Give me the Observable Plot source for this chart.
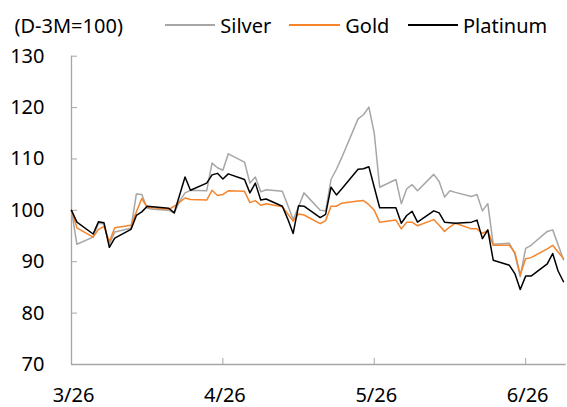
<!DOCTYPE html>
<html>
<head>
<meta charset="utf-8">
<script src="https://cdn.jsdelivr.net/npm/d3@7"></script>
<script src="https://cdn.jsdelivr.net/npm/@observablehq/plot@0.6"></script>
<style>
  body { margin: 0; background: #fff; }
  #chart { position: relative; width: 567px; height: 407px; font-family: "Noto Sans", sans-serif; color: #000; }
  #legend { position: relative; width: 567px; height: 40px; font-size: 20px; }
  .lg { position: absolute; top: 12px; line-height: 27px; white-space: nowrap; }
  .sw { position: absolute; top: 24px; height: 2px; }
  svg { display: block; }
</style>
</head>
<body>
<div id="chart">
  <div id="legend"></div>
</div>
<script>
// ---- data (indexed, 3 months ago = 100) ----
const dates = [
  "2026-03-26","2026-03-27","2026-03-30","2026-03-31","2026-04-01","2026-04-02","2026-04-03",
  "2026-04-06","2026-04-07","2026-04-08","2026-04-09","2026-04-10",
  "2026-04-13","2026-04-14","2026-04-15","2026-04-16","2026-04-17",
  "2026-04-20","2026-04-21","2026-04-22","2026-04-23","2026-04-24",
  "2026-04-27","2026-04-28","2026-04-29","2026-04-30","2026-05-01",
  "2026-05-04","2026-05-05","2026-05-06","2026-05-07","2026-05-08",
  "2026-05-11","2026-05-12","2026-05-13","2026-05-14","2026-05-15",
  "2026-05-18","2026-05-19","2026-05-20","2026-05-21","2026-05-22",
  "2026-05-25","2026-05-26","2026-05-27","2026-05-28","2026-05-29",
  "2026-06-01","2026-06-02","2026-06-03","2026-06-04","2026-06-05",
  "2026-06-08","2026-06-09","2026-06-10","2026-06-11","2026-06-12",
  "2026-06-15","2026-06-16","2026-06-17","2026-06-18","2026-06-19",
  "2026-06-22","2026-06-23","2026-06-24","2026-06-25"
];
const silver = [
  100.0, 93.4, 94.8, 97.5, 97.4, 93.4, 95.8,
  96.5, 103.2, 103.1, 100.4, 100.2,
  100.0, 99.5, 101.8, 103.4, 103.9,
  103.8, 109.2, 108.3, 107.8, 111.0,
  109.4, 105.3, 106.5, 103.6, 104.0,
  103.7, 101.0, 98.2, 100.7, 103.4,
  100.0, 99.9, 106.0, 108.0, 110.3,
  117.8, 118.6, 120.1, 115.0, 104.5,
  106.0, 101.3, 104.2, 105.0, 103.8,
  107.0, 105.6, 102.6, 103.8, 103.5,
  102.7, 103.1, 99.9, 101.3, 93.4,
  93.6, 91.5, 87.1, 92.6, 93.2,
  95.9, 96.2, 93.3, 90.4
];
const gold = [
  100.0, 96.6, 94.8, 96.3, 96.9, 93.9, 96.6,
  97.1, 99.7, 102.3, 100.6, 100.5,
  100.2, 100.8, 101.6, 102.4, 102.1,
  102.0, 103.9, 102.9, 103.1, 103.8,
  103.7, 101.5, 101.9, 101.0, 101.3,
  100.7, 99.3, 97.9, 99.3, 99.1,
  97.4, 98.0, 100.8, 100.8, 101.4,
  101.8, 101.9, 101.1, 100.0, 97.7,
  98.1, 96.4, 97.7, 97.7, 97.0,
  98.2, 97.1, 95.9, 96.8, 97.5,
  96.4, 96.4, 95.5, 96.1, 93.2,
  93.2, 91.8, 87.5, 90.6, 90.8,
  92.5, 93.2, 91.9, 90.6
];
const platinum = [
  100.0, 97.7, 95.4, 97.8, 97.6, 92.8, 94.6,
  96.3, 99.0, 99.7, 100.8, 100.7,
  100.4, 99.5, 103.0, 106.5, 103.9,
  105.3, 106.9, 107.2, 106.1, 107.1,
  106.0, 103.4, 105.3, 102.0, 102.2,
  100.8, 98.3, 95.5, 100.9, 100.8,
  98.6, 99.2, 104.5, 103.0, 104.2,
  108.0, 108.1, 108.5, 104.5, 100.5,
  100.5, 97.5, 99.0, 99.8, 97.7,
  99.9, 99.5, 97.7, 97.6, 97.5,
  97.7, 98.1, 94.5, 96.2, 90.3,
  89.3, 87.7, 84.6, 87.2, 87.2,
  89.6, 91.6, 88.2, 86.1
];
const seriesNames = ["Silver", "Gold", "Platinum"];
const seriesColors = ["#a6a6a6", "#f5842a", "#000000"];
const yTicks = [70, 80, 90, 100, 110, 120, 130];
const xTickDates = ["2026-03-26", "2026-04-23", "2026-05-21", "2026-06-18"];
const xTickLabels = ["3/26", "4/26", "5/26", "6/26"];
const unitLabel = "(D-3M=100)";
const xDomain = ["2026-03-26T00:00Z", "2026-06-25T12:00Z"];

// ---- build ----
const parse = s => new Date(s.length === 10 ? s + "T00:00Z" : s);
const seriesValues = [silver, gold, platinum];
const rows = seriesNames.map((name, k) =>
  dates.map((d, i) => ({date: parse(d), value: seriesValues[k][i], series: name})));
const tickDates = xTickDates.map(parse);
const labelMap = new Map(tickDates.map((d, i) => [+d, xTickLabels[i]]));
const axisColor = "#a6a6a6";

// legend
const legend = document.getElementById("legend");
const addText = (txt, left) => {
  const s = document.createElement("span");
  s.className = "lg"; s.textContent = txt; s.style.left = left + "px";
  legend.appendChild(s);
};
const addSwatch = (color, left, width) => {
  const s = document.createElement("span");
  s.className = "sw";
  s.style.left = left + "px";
  s.style.width = width + "px";
  s.style.backgroundColor = color;
  legend.appendChild(s);
};
addText(unitLabel, 14.5);
const swLeft = [165, 289, 408];
const swWidth = [50, 51, 50];
const txLeft = [220.3, 345.3, 463];
seriesNames.forEach((n, k) => { addSwatch(seriesColors[k], swLeft[k], swWidth[k]); addText(n, txLeft[k]); });

const plot = Plot.plot({
  width: 567,
  height: 367,
  marginLeft: 71,
  marginRight: 1.3,
  marginTop: 15.7,
  marginBottom: 43,
  style: {fontFamily: "'Noto Sans', sans-serif", fontSize: "20px", color: "#000", background: "#fff", overflow: "visible"},
  x: {type: "utc", domain: xDomain.map(parse), label: null},
  y: {domain: [70, 130], label: null},
  marks: [
    Plot.ruleY([70], {stroke: axisColor, strokeWidth: 1.3}),
    Plot.ruleX([parse(xDomain[0])], {stroke: axisColor, strokeWidth: 1.3}),
    Plot.axisY({ticks: yTicks, tickSize: 6, dx: 6, tickFormat: () => "", stroke: axisColor, label: null}),
    Plot.axisY({ticks: yTicks, tickSize: 0, tickPadding: 27, label: null}),
    Plot.axisX({ticks: tickDates, tickSize: 6, dy: -6, tickFormat: () => "", stroke: axisColor, label: null}),
    Plot.axisX({ticks: tickDates, tickSize: 0, tickPadding: 23, dx: 2, tickFormat: d => labelMap.get(+d), label: null}),
    ...rows.map((r, k) => Plot.line(r, {x: "date", y: "value", stroke: seriesColors[k], strokeWidth: 1.5}))
  ]
});
document.getElementById("chart").appendChild(plot);
</script>
</body>
</html>
